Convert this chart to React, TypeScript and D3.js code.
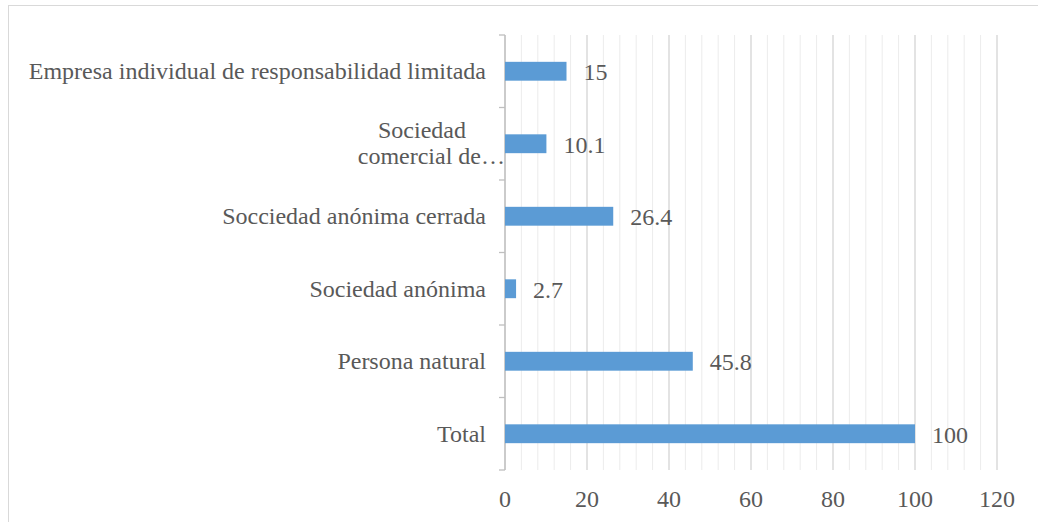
import React from "react";
import * as d3 from "d3";

const categories = [
  "Empresa individual de responsabilidad limitada",
  "Sociedad comercial de…",
  "Socciedad anónima cerrada",
  "Sociedad anónima",
  "Persona natural",
  "Total",
];
const values = [15, 10.1, 26.4, 2.7, 45.8, 100];
const xTicks = [0, 20, 40, 60, 80, 100, 120];
const minorTicks = d3.range(0, 121, 4);

const W = 1038;
const H = 522;
const margin = { left: 505, right: 41, top: 35, bottom: 52 };
const FONT = "'Times New Roman', 'Liberation Serif', serif";
const TEXT = "#595959";
const FS = 24;

export default function App() {
  const x = d3.scaleLinear().domain([0, 120]).range([margin.left, W - margin.right]);
  const y = d3
    .scaleBand<string>()
    .domain(categories)
    .range([margin.top, H - margin.bottom])
    .padding(0);
  const barH = y.step() * 0.26;
  const boundaries = d3.range(categories.length + 1).map((i) => margin.top + i * y.step());
  const yTop = margin.top;
  const yBot = H - margin.bottom;
  const mid = (c: string) => (y(c) as number) + y.bandwidth() / 2;

  return (
    <svg
      width={W}
      height={H}
      style={{ position: "absolute", left: 0, top: 0, background: "#fff", fontFamily: FONT }}
    >
      <rect x={8.5} y={5.5} width={1040} height={530} fill="#fff" stroke="#d9d9d9" />
      {minorTicks.map((t) => (
        <line key={"m" + t} x1={x(t)} x2={x(t)} y1={yTop} y2={yBot} stroke="#ececec" strokeWidth={1} />
      ))}
      {xTicks.map((t) => (
        <line key={"g" + t} x1={x(t)} x2={x(t)} y1={yTop} y2={yBot} stroke="#d9d9d9" strokeWidth={1.3} />
      ))}
      {/* category axis */}
      <line x1={x(0)} x2={x(0)} y1={yTop} y2={yBot} stroke="#bfbfbf" strokeWidth={1.3} />
      {boundaries.map((b, i) => (
        <line key={"t" + i} x1={x(0) - 6} x2={x(0)} y1={b} y2={b} stroke="#bfbfbf" strokeWidth={1.3} />
      ))}
      {categories.map((c, i) => (
        <rect
          key={c}
          x={x(0)}
          y={mid(c) - barH / 2}
          width={x(values[i]) - x(0)}
          height={barH}
          fill="#5b9bd5"
        />
      ))}
      {categories.map((c, i) => (
        <text key={"v" + c} x={x(values[i]) + 17} y={mid(c) + 9} fontSize={FS} fill={TEXT}>
          {values[i]}
        </text>
      ))}
      {categories.map((c) => {
        const cy = mid(c);
        if (c === "Sociedad comercial de…") {
          return (
            <text key={"c" + c} fontSize={FS} fill={TEXT}>
              <tspan x={422} y={cy - 6} textAnchor="middle">Sociedad</tspan>
              <tspan x={505} y={cy + 20} textAnchor="end">comercial de…</tspan>
            </text>
          );
        }
        return (
          <text key={"c" + c} x={x(0) - 19} y={cy + 8} fontSize={FS} fill={TEXT} textAnchor="end">
            {c}
          </text>
        );
      })}
      {xTicks.map((t) => (
        <text key={"x" + t} x={x(t)} y={507} fontSize={FS} fill={TEXT} textAnchor="middle">
          {t}
        </text>
      ))}
    </svg>
  );
}
